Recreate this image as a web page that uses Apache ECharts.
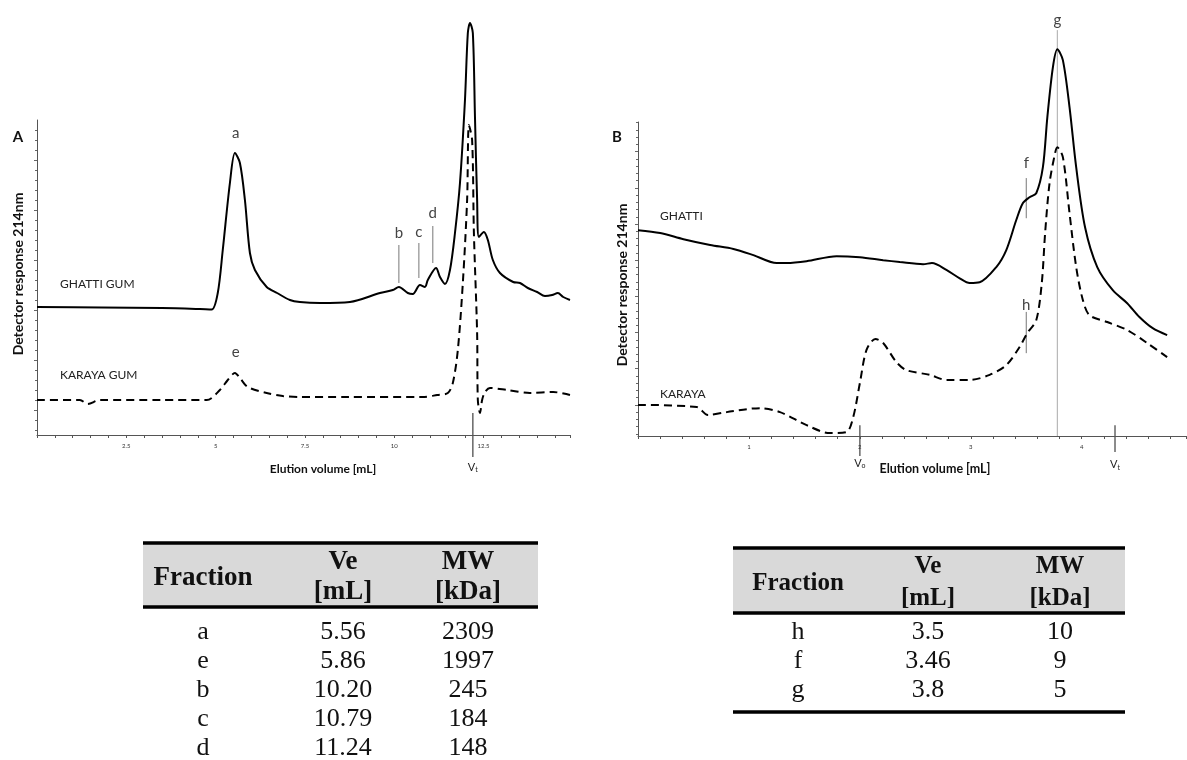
<!DOCTYPE html>
<html>
<head>
<meta charset="utf-8">
<script src="https://cdn.jsdelivr.net/npm/echarts@6.0.0/dist/echarts.min.js"></script>
<style>
  html, body { margin: 0; background: #fff; }
  #chart { width: 1187px; height: 760px; }
</style>
</head>
<body>
<div id="chart"></div>
<script>
// elution volume [mL], detector response (arbitrary units)
const ghattiA = [[0,2.56],[1.8,2.55],[3.5,2.54],[4.56,2.52],[4.89,2.51],[5.06,2.84],[5.2,3.7],[5.4,5.04],[5.54,5.64],[5.68,5.44],[5.82,4.7],[5.96,3.64],[6.1,3.3],[6.43,2.96],[6.72,2.84],[7.08,2.7],[7.36,2.66],[7.92,2.64],[8.76,2.66],[9.6,2.84],[9.96,2.9],[10.13,2.96],[10.38,2.84],[10.52,2.82],[10.72,3.0],[10.86,2.96],[10.94,3.1],[11.17,3.34],[11.28,3.16],[11.42,3.02],[11.56,3.3],[11.7,4.04],[11.84,5.04],[11.98,6.7],[12.06,8.04],[12.12,8.24],[12.2,8.04],[12.26,6.36],[12.32,4.7],[12.37,3.96],[12.51,4.06],[12.62,3.9],[12.76,3.5],[12.96,3.24],[13.33,3.06],[13.52,3.04],[13.74,2.94],[14.0,2.86],[14.22,2.78],[14.42,2.8],[14.58,2.84],[14.73,2.76],[14.92,2.7]];
const karayaA = [[0,0.7],[1.2,0.7],[1.42,0.62],[1.76,0.7],[3.5,0.7],[4.75,0.7],[5.12,0.9],[5.34,1.1],[5.54,1.24],[5.68,1.14],[5.9,0.96],[6.43,0.84],[6.88,0.78],[7.36,0.76],[8.68,0.76],[10.8,0.76],[11.2,0.8],[11.5,0.84],[11.64,1.04],[11.78,1.7],[11.92,3.04],[12.04,4.7],[12.09,6.2],[12.18,5.9],[12.23,4.04],[12.32,2.04],[12.34,0.7],[12.4,0.44],[12.46,0.7],[12.54,0.86],[12.68,0.94],[13.16,0.9],[13.8,0.84],[14.45,0.86],[14.92,0.8]];
const ghattiB = [[0,5.69],[0.2,5.61],[0.41,5.44],[0.65,5.28],[0.86,5.17],[1.04,5.0],[1.25,4.78],[1.34,4.78],[1.52,4.83],[1.79,4.97],[2.0,4.94],[2.21,4.86],[2.36,4.81],[2.57,4.75],[2.65,4.78],[2.78,4.59],[2.9,4.36],[2.99,4.23],[3.08,4.25],[3.23,4.67],[3.32,5.14],[3.41,5.97],[3.47,6.44],[3.53,6.6],[3.59,6.71],[3.65,7.43],[3.69,8.81],[3.74,10.19],[3.78,10.69],[3.83,10.39],[3.89,9.09],[3.95,7.43],[4.03,5.77],[4.14,4.67],[4.28,4.03],[4.41,3.67],[4.52,3.29],[4.64,2.98],[4.77,2.79]];
const karayaB = [[0,0.86],[0.53,0.8],[0.63,0.58],[0.8,0.66],[1.1,0.77],[1.28,0.66],[1.52,0.3],[1.73,0.08],[1.88,0.11],[1.94,0.52],[2.0,1.46],[2.06,2.38],[2.14,2.68],[2.21,2.57],[2.33,2.04],[2.42,1.82],[2.63,1.69],[2.78,1.55],[2.99,1.55],[3.17,1.69],[3.32,1.96],[3.44,2.46],[3.51,2.85],[3.59,3.2],[3.64,4.23],[3.67,5.61],[3.71,6.99],[3.76,7.82],[3.78,7.98],[3.83,7.71],[3.89,6.16],[3.95,4.67],[4.01,3.76],[4.07,3.34],[4.23,3.15],[4.41,2.93],[4.59,2.57],[4.77,2.18]];

const xLabelsA = [2.5, 5, 7.5, 10, 12.5];
const xLabelsB = [1, 2, 3, 4];

const tableHead = ['Fraction', 'Ve', '[mL]', 'MW', '[kDa]'];
const fractionA = ['a', 'e', 'b', 'c', 'd'];
const veA = ['5.56', '5.86', '10.20', '10.79', '11.24'];
const mwA = ['2309', '1997', '245', '184', '148'];
const fractionB = ['h', 'f', 'g'];
const veB = ['3.5', '3.46', '3.8'];
const mwB = ['10', '9', '5'];

// y tick positions (no labels on these axes)
function tickSet(first, top, step, sub) {
  const major = [], minor = [];
  for (let v = first; v < top; v += step) major.push(+v.toFixed(3));
  const s = step / sub;
  for (let v = first - Math.floor(first / s) * s; v < top; v += s) {
    if (!major.some(m => Math.abs(m - v) < 1e-6)) minor.push(+v.toFixed(3));
  }
  return { major, minor };
}
const yA = tickSet(0.5, 6.3, 1, 5);
const yB = tickSet(0.86, 8.68, 1, 5);

const chart = echarts.init(document.getElementById('chart'));
const FONT = 'Lato, "Open Sans", sans-serif';
const SERIF = '"Liberation Serif", "DejaVu Serif", serif';

function xAxis(grid, max, interval, labels) {
  return {
    type: 'value', gridIndex: grid, min: 0, max: max, interval: interval,
    axisLine: { lineStyle: { color: '#555', width: 1 } },
    axisTick: { length: 3, lineStyle: { color: '#555' } },
    axisLabel: { customValues: labels, fontSize: 6, color: '#333', margin: 8, fontFamily: FONT },
    splitLine: { show: false }
  };
}
function yAxis(grid, max, ticks, len, line) {
  return {
    type: 'value', gridIndex: grid, position: 'left', offset: 0, min: 0, max: max,
    axisLine: { show: line, onZero: false, lineStyle: { color: '#555', width: 1 } },
    axisTick: { show: true, customValues: ticks, length: len, lineStyle: { color: '#666' } },
    axisLabel: { show: false },
    splitLine: { show: false }
  };
}
function curve(xi, yi, data, dashed) {
  return {
    type: 'line', xAxisIndex: xi, yAxisIndex: yi, data: data,
    showSymbol: false, symbol: 'none', smooth: 0.3, clip: false, silent: true,
    lineStyle: { color: '#000', width: 2, type: dashed ? [8, 5] : 'solid' }
  };
}

chart.setOption({
  animation: false,
  backgroundColor: '#fff',
  grid: [
    { left: 37, top: 120, width: 533, height: 315 },
    { left: 638, top: 122, width: 548, height: 314 }
  ],
  xAxis: [xAxis(0, 14.92, 0.5, xLabelsA), xAxis(1, 4.94, 0.2, xLabelsB)],
  yAxis: [
    yAxis(0, 6.3, yA.major, 3, true), yAxis(0, 6.3, yA.minor, 2, false),
    yAxis(1, 8.68, yB.major, 3, true), yAxis(1, 8.68, yB.minor, 2, false)
  ],
  series: [
    curve(0, 0, ghattiA, false), curve(0, 0, karayaA, true),
    curve(1, 2, ghattiB, false), curve(1, 2, karayaB, true)
  ]
});

// annotations anchored in data space
const marksA = [
  { t: 'a', x: 5.56, label: 6.04 },
  { t: 'e', x: 5.56, label: 1.66 },
  { t: 'b', x: 10.13, y0: 3.8, y1: 3.04, label: 4.04 },
  { t: 'c', x: 10.69, y0: 3.84, y1: 3.14, label: 4.06 },
  { t: 'd', x: 11.08, y0: 4.18, y1: 3.44, label: 4.44 }
];
const marksB = [
  { t: 'g', x: 3.78, y0: 11.22, y1: 0, label: 11.49, color: '#aaa' },
  { t: 'f', x: 3.5, y0: 7.13, y1: 6.02, label: 7.54 },
  { t: 'h', x: 3.5, y0: 3.43, y1: 2.29, label: 3.62 }
];
const volMarks = [
  { grid: 0, sub: 't', x: 12.2, y0: 0.44, y1: -0.44, label: -0.64 },
  { grid: 1, sub: 'o', x: 2.0, y0: 0.3, y1: -0.55, label: -0.75 },
  { grid: 1, sub: 't', x: 4.3, y0: 0.3, y1: -0.44, label: -0.8 }
];

const px = (g, x, y) => chart.convertToPixel({ gridIndex: g }, [x, y]);
const graphic = [];
function vline(g, x, y0, y1, color, w) {
  const a = px(g, x, y0), b = px(g, x, y1);
  graphic.push({ type: 'line', silent: true, shape: { x1: a[0], y1: a[1], x2: b[0], y2: b[1] },
    style: { stroke: color, lineWidth: w } });
}
function text(x, y, str, font, extra, fill) {
  graphic.push(Object.assign({ type: 'text', silent: true, x: x, y: y,
    style: { text: str, font: font, fill: fill || '#111', align: 'center', verticalAlign: 'middle' } }, extra || {}));
}
[[0, marksA], [1, marksB]].forEach(([g, list]) => {
  list.forEach(m => {
    if (m.y0 !== undefined) vline(g, m.x, m.y0, m.y1, m.color || '#777', 1);
    const p = px(g, m.x, m.label);
    text(p[0], p[1], m.t, '15px ' + FONT, null, '#444');
  });
});
volMarks.forEach(m => {
  vline(m.grid, m.x, m.y0, m.y1, '#666', 1.5);
  const p = px(m.grid, m.x, m.label);
  graphic.push({ type: 'text', silent: true, x: p[0], y: p[1], style: {
    text: '{v|V}{s|' + m.sub + '}', align: 'center', verticalAlign: 'middle', fill: '#222',
    rich: { v: { fontSize: 11, fontFamily: FONT }, s: { fontSize: 7, fontFamily: FONT, padding: [5, 0, 0, 0] } }
  } });
});

// panel text
text(18, 137, 'A', 'bold 15px ' + FONT);
text(617, 137, 'B', 'bold 15px ' + FONT);
text(18, 274, 'Detector response 214nm', 'bold 14px ' + FONT, { rotation: Math.PI / 2 });
text(622, 285, 'Detector response 214nm', 'bold 14px ' + FONT, { rotation: Math.PI / 2 });
text(323, 469, 'Elution volume [mL]', 'bold 12px ' + FONT);
text(935, 469, 'Elution volume [mL]', 'bold 12.5px ' + FONT);
[['GHATTI GUM', 60, 284], ['KARAYA GUM', 60, 375], ['GHATTI', 660, 216], ['KARAYA', 660, 394]].forEach(([s, x, y]) => {
  graphic.push({ type: 'text', silent: true, x: x, y: y,
    style: { text: s, font: '12px ' + FONT, fill: '#222', align: 'left', verticalAlign: 'middle' } });
});

// tables
function table(x0, x1, top, headBottom, cols, headY, rowY, step, rows, bottom, hSize, rSize) {
  graphic.push({ type: 'rect', silent: true, shape: { x: x0, y: top, width: x1 - x0, height: headBottom - top },
    style: { fill: '#d9d9d9' } });
  [top, headBottom].concat(bottom ? [bottom] : []).forEach(y => {
    graphic.push({ type: 'line', silent: true, shape: { x1: x0, y1: y, x2: x1, y2: y }, style: { stroke: '#000', lineWidth: 3.5 } });
  });
  const hf = 'bold ' + hSize + 'px ' + SERIF;
  text(cols[0], (headY[0] + headY[1]) / 2 + 1, tableHead[0], hf);
  text(cols[1], headY[0], tableHead[1], hf);
  text(cols[1], headY[1], tableHead[2], hf);
  text(cols[2], headY[0], tableHead[3], hf);
  text(cols[2], headY[1], tableHead[4], hf);
  rows.forEach((col, ci) => col.forEach((v, ri) => text(cols[ci], rowY + ri * step, v, rSize + 'px ' + SERIF)));
}
table(143, 538, 543, 607, [203, 343, 468], [562, 592], 632, 29, [fractionA, veA, mwA], null, 27, 26);
table(733, 1125, 548, 613, [798, 928, 1060], [567, 599], 632, 29, [fractionB, veB, mwB], 712, 25, 26);

chart.setOption({ graphic: graphic });
</script>
</body>
</html>
